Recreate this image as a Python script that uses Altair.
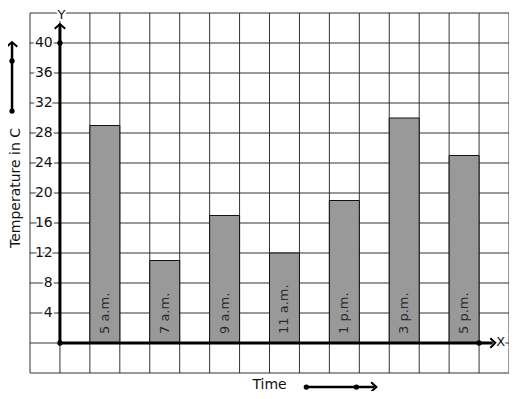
import altair as alt
import pandas as pd

# ---- data ----
times = ["5 a.m.", "7 a.m.", "9 a.m.", "11 a.m.", "1 p.m.", "3 p.m.", "5 p.m."]
temps = [29, 11, 17, 12, 19, 30, 25]
y_ticks = [4, 8, 12, 16, 20, 24, 28, 32, 36, 40]

X_DOM = [-1, 15]
Y_DOM = [-4, 44]
FONT = "DejaVu Sans"

xs = alt.Scale(domain=X_DOM, nice=False, zero=False)
ys = alt.Scale(domain=Y_DOM, nice=False, zero=False)


def X(f="x"):
    return alt.X(f"{f}:Q", scale=xs, axis=None)


def Y(f="y"):
    return alt.Y(f"{f}:Q", scale=ys, axis=None)


bars_df = pd.DataFrame({
    "time": times,
    "temp": temps,
    "x0": [1 + 2 * i for i in range(len(times))],
})
bars_df["x1"] = bars_df["x0"] + 1
bars_df["xc"] = bars_df["x0"] + 0.5
bars_df["zero"] = 0
bars_df["ly"] = 1.2

# grid
vgrid = pd.DataFrame({"x": list(range(X_DOM[0], X_DOM[1] + 1))})
vgrid["y"] = Y_DOM[0]
vgrid["y2"] = Y_DOM[1]
hgrid = pd.DataFrame({"y": list(range(Y_DOM[0], Y_DOM[1] + 1, 4))})
hgrid["x"] = X_DOM[0]
hgrid["x2"] = X_DOM[1]

grid_v = alt.Chart(vgrid).mark_rule(color="#333333", strokeWidth=1).encode(
    x=X("x"), y=Y("y"), y2="y2")
grid_h = alt.Chart(hgrid).mark_rule(color="#333333", strokeWidth=1).encode(
    y=Y("y"), x=X("x"), x2="x2")

bars = alt.Chart(bars_df).mark_bar(
    fill="#999999", stroke="#111111", strokeWidth=1, opacity=1
).encode(x=X("x0"), x2="x1", y=Y("zero"), y2="temp")

bar_labels = alt.Chart(bars_df).mark_text(
    angle=270, align="left", baseline="middle", font=FONT, fontSize=13,
    color="#2a2a2a"
).encode(x=X("xc"), y=Y("ly"), text="time:N")

# tick labels with white halo to break the grid line
tick_df = pd.DataFrame({"y": y_ticks, "label": [str(v) for v in y_ticks]})
tick_df["x"] = -0.24

# axis letters
lab_df = pd.DataFrame({"x": [0.05, 14.72], "y": [43.8, 0.1], "t": ["Y", "X"]})


def halo_text(df, size, **kw):
    base = dict(font=FONT, fontSize=size, baseline="middle")
    base.update(kw)
    halo = alt.Chart(df).mark_text(stroke="white", strokeWidth=4, color="white", **base)
    txt = alt.Chart(df).mark_text(color="#111111", **base)
    return halo, txt


tick_halo, tick_text = halo_text(tick_df, 14, align="right")
tick_halo = tick_halo.encode(x=X("x"), y=Y("y"), text="label:N")
tick_text = tick_text.encode(x=X("x"), y=Y("y"), text="label:N")

lab_halo, lab_text = halo_text(lab_df, 13, align="center")
lab_halo = lab_halo.encode(x=X("x"), y=Y("y"), text="t:N")
lab_text = lab_text.encode(x=X("x"), y=Y("y"), text="t:N")

# axes lines
axes_df = pd.DataFrame({"x": [0, 0], "y": [0, 0], "x2": [0, 14.45], "y2": [42.5, 0]})
axes = alt.Chart(axes_df).mark_rule(color="black", strokeWidth=3).encode(
    x=X("x"), y=Y("y"), x2="x2", y2="y2")

# arrowheads
up_df = pd.DataFrame({"x": [0, -1.6], "y": [42.53, 40.13]})
up_arrows = alt.Chart(up_df).mark_point(
    shape="M -1 0.9 L 0 0 L 1 0.9", filled=False, stroke="black",
    strokeWidth=2, size=110, opacity=1
).encode(x=X("x"), y=Y("y"))
right_df = pd.DataFrame({"x": [14.55, 10.57], "y": [0, -5.87]})
right_arrows = alt.Chart(right_df).mark_point(
    shape="M -1 -0.9 L 0 0 L -1 0.9", filled=False, stroke="black",
    strokeWidth=2, size=110, opacity=1
).encode(x=X("x"), y=Y("y"))

# decorative arrow lines
deco_df = pd.DataFrame({"x": [-1.6, 8.23], "y": [30.93, -5.87],
                        "x2": [-1.6, 10.5], "y2": [40.0, -5.87]})
deco = alt.Chart(deco_df).mark_rule(color="black", strokeWidth=2.5).encode(
    x=X("x"), y=Y("y"), x2="x2", y2="y2")

# dots
dots_df = pd.DataFrame({"x": [0, 0, 14, -1.6, -1.6, 8.23, 9.9],
                        "y": [0, 40, 0, 37.6, 30.93, -5.87, -5.87]})
dots = alt.Chart(dots_df).mark_circle(color="black", size=28, opacity=1).encode(
    x=X("x"), y=Y("y"))

# texts
time_df = pd.DataFrame({"x": [7.0], "y": [-5.6], "t": ["Time"]})
time_lab = alt.Chart(time_df).mark_text(
    align="center", baseline="middle", font=FONT, fontSize=14, color="#111111"
).encode(x=X("x"), y=Y("y"), text="t:N")

ytitle_df = pd.DataFrame({"x": [-1.48], "y": [20.67], "t": ["Temperature in C"]})
ytitle = alt.Chart(ytitle_df).mark_text(
    angle=270, align="center", baseline="middle", font=FONT, fontSize=14,
    color="#111111"
).encode(x=X("x"), y=Y("y"), text="t:N")

chart = alt.layer(
    grid_v, grid_h, bars, bar_labels, tick_halo, tick_text, axes, deco,
    up_arrows, right_arrows, dots, lab_halo, lab_text, time_lab, ytitle
).properties(
    width=479, height=360,
    autosize=alt.AutoSizeParams(type="none"),
    padding={"left": 22, "top": 5, "right": 0, "bottom": 18},
    background="white",
).configure_view(strokeWidth=0)

chart.save("out.html", embed_options={"renderer": "svg", "actions": False})
